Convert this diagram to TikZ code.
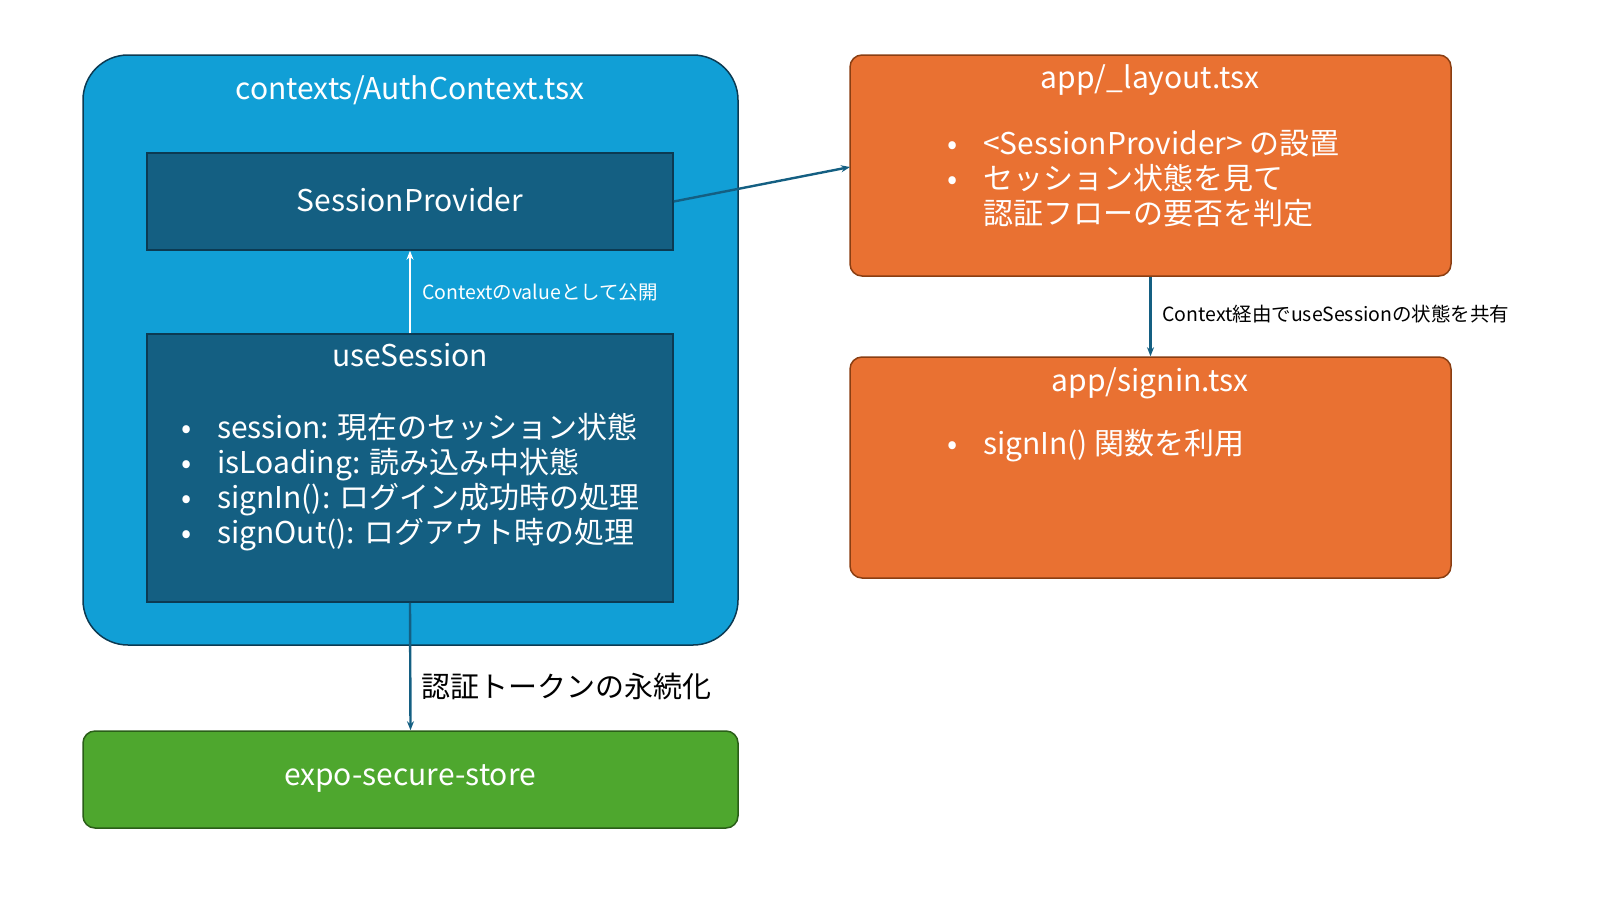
\documentclass[tikz,border=0pt]{standalone}
\usepackage{fontspec}
\setmainfont{Noto Sans CJK JP}
\usetikzlibrary{arrows.meta}
\definecolor{cblue}{HTML}{119FD6}
\definecolor{cdark}{HTML}{145F82}
\definecolor{cedge}{HTML}{0C3A52}
\definecolor{corange}{HTML}{E97132}
\definecolor{coredge}{HTML}{8A3E12}
\definecolor{cgreen}{HTML}{4EA72E}
\definecolor{cgedge}{HTML}{2A5E18}
\newcommand{\bu}{\makebox[36pt][l]{•}}
\newcommand{\bi}{\hspace*{36pt}}
\begin{document}
\begin{tikzpicture}[x=1pt,y=-1pt,
  txt/.style={text=white,font=\fontsize{30}{35}\selectfont,inner sep=0},
  small/.style={font=\fontsize{19.5}{23}\selectfont,inner sep=0,anchor=west},
  conn/.style={draw=cdark,line width=2.4pt,-{Stealth[length=9pt,width=7pt]}},
  bul/.style={txt,anchor=west,align=left}]
\useasboundingbox (0,0) rectangle (1600,900);
\node[draw=cedge,line width=1.5pt,fill=cblue,rounded corners=45pt,minimum width=655pt,minimum height=590pt] (outer) at (410.5,350) {};
\node[txt] (t1) at (410,90) {contexts/AuthContext.tsx};
\node[draw=cedge,line width=1.5pt,fill=cdark,minimum width=526pt,minimum height=97pt] (sp) at (410,201.5) {};
\node[txt] (sptxt) at (410,200) {SessionProvider};
\node[draw=cedge,line width=1.5pt,fill=cdark,minimum width=526pt,minimum height=268pt] (us) at (410,468) {};
\node[txt] (ustxt) at (410,355) {useSession};
\node[bul] (usb) at (181,482) {\bu session: 現在のセッション状態\\ \bu isLoading: 読み込み中状態\\ \bu signIn(): ログイン成功時の処理\\ \bu signOut(): ログアウト時の処理};
\node[draw=cgedge,line width=1.5pt,fill=cgreen,rounded corners=12pt,minimum width=655pt,minimum height=97pt] (gr) at (410.5,779.5) {};
\node[txt] (grtxt) at (410,778) {expo-secure-store};
\node[draw=coredge,line width=1.5pt,fill=corange,rounded corners=12pt,minimum width=601pt,minimum height=221pt] (o1) at (1150.5,165.5) {};
\node[txt] (o1t) at (1150,80) {app/\_layout.tsx};
\node[bul] (o1b) at (947,179) {\bu <SessionProvider> の設置\\ \bu セッション状態を見て\\ \bi 認証フローの要否を判定};
\node[draw=coredge,line width=1.5pt,fill=corange,rounded corners=12pt,minimum width=601pt,minimum height=221pt] (o2) at (1150.5,467.5) {};
\node[txt] (o2t) at (1150,383) {app/signin.tsx};
\node[bul] (o2b) at (947,446) {\bu signIn() 関数を利用};
\draw[draw=white,line width=2.4pt,-{Stealth[length=9pt,width=7pt]}] (us.north) -- (sp.south);
\node[small,text=white] (l1) at (422,292) {Contextのvalueとして公開};
\draw[conn] (us.south) -- (gr.north);
\node[anchor=west,inner sep=0,font=\fontsize{29}{34}\selectfont] (l2) at (421,686) {認証トークンの永続化};
\coordinate (o1in) at (850,167);
\draw[conn] (sp.east) -- (o1in);
\draw[conn] (o1.south) -- (o2.north);
\node[small] (l3) at (1162,314) {Context経由でuseSessionの状態を共有};
\end{tikzpicture}
\end{document}
